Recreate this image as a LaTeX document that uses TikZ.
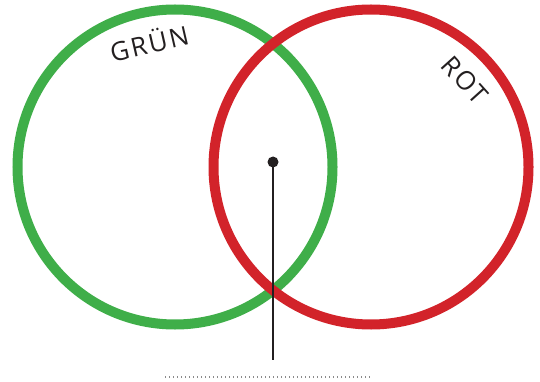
\documentclass[tikz,border=0pt]{standalone}
\usepackage{fontspec}
\setmainfont{Open Sans}
\newfontfamily\labelfont[LetterSpace=8]{Open Sans}
\definecolor{vgreen}{HTML}{3FAE49}
\definecolor{vred}{HTML}{D2232A}
\definecolor{ink}{HTML}{231F20}
\definecolor{dotgray}{HTML}{8A8A8A}
\begin{document}
\begin{tikzpicture}[x=1pt,y=-1pt,
  ring/.style={circle, draw=#1, line width=10pt, minimum size=315pt, inner sep=0pt},
  setlabel/.style={font=\labelfont\fontsize{26}{26}\selectfont, text=ink, inner sep=0pt},
  pin/.style={circle, fill=ink, minimum size=11pt, inner sep=0pt},
  stem/.style={draw=ink, line width=2.5pt},
  blank/.style={draw=dotgray, line width=1.3pt, dash pattern=on 1.3pt off 2.7pt}]
\useasboundingbox (0,0) rectangle (540,382);
\node[ring=vgreen] (gruen) at (175,167) {};
\node[ring=vred] (rot) at (371,167) {};
\node[setlabel, rotate=13] (lg) at (149,42) {GRÜN};
\node[setlabel, rotate=-48] (lr) at (465,80) {ROT};
\node[pin] (p) at (273,162) {};
\coordinate (pend) at (273,360);
\draw[stem] (p.center) -- (pend);
\coordinate (b1) at (165,377);
\coordinate (b2) at (370,377);
\draw[blank] (b1) -- (b2);
\end{tikzpicture}
\end{document}
